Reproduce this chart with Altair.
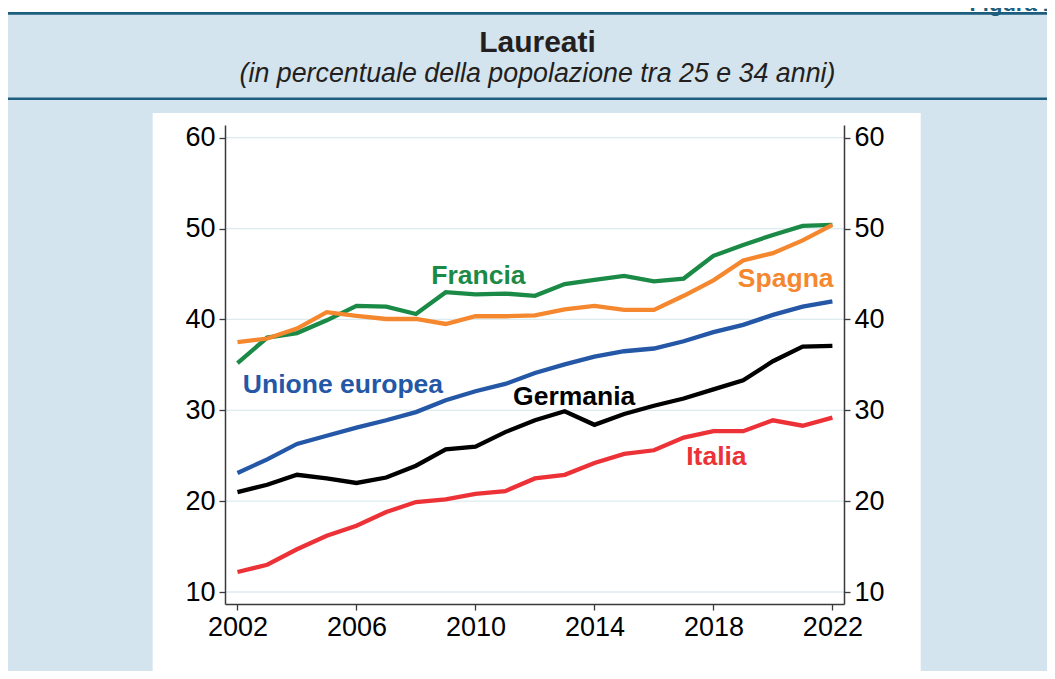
import altair as alt
import pandas as pd

# ---------------- data ----------------
years = list(range(2002, 2023))
francia = [35.2, 38.0, 38.5, 39.9, 41.5, 41.4, 40.6, 43.0, 42.75, 42.85, 42.6,
           43.9, 44.35, 44.8, 44.2, 44.5, 47.0, 48.2, 49.3, 50.3, 50.4]
spagna = [37.5, 37.9, 39.0, 40.8, 40.4, 40.05, 40.05, 39.5, 40.35, 40.35, 40.45,
          41.1, 41.5, 41.05, 41.05, 42.6, 44.3, 46.5, 47.3, 48.7, 50.4]
unione_europea = [23.1, 24.6, 26.3, 27.2, 28.1, 28.9, 29.8, 31.1, 32.1, 32.9, 34.1,
                  35.05, 35.9, 36.5, 36.8, 37.6, 38.6, 39.4, 40.5, 41.4, 42.0]
germania = [21.0, 21.8, 22.9, 22.5, 22.0, 22.6, 23.9, 25.7, 26.0, 27.6, 28.9,
            29.9, 28.4, 29.6, 30.5, 31.3, 32.3, 33.3, 35.4, 37.0, 37.1]
italia = [12.2, 13.0, 14.7, 16.2, 17.3, 18.8, 19.9, 20.2, 20.8, 21.1, 22.5,
          22.9, 24.2, 25.2, 25.6, 27.0, 27.7, 27.7, 28.9, 28.3, 29.2]

series_names = ["Francia", "Spagna", "Unione europea", "Germania", "Italia"]
series_values = [francia, spagna, unione_europea, germania, italia]
series_colors = ["#1b8a47", "#f5872e", "#2457a6", "#000000", "#ec3237"]

# label anchors (year, value) for the inline series names
label_names = ["Francia", "Spagna", "Unione europea", "Germania", "Italia"]
label_years = [2010.1, 2020.43, 2002.18, 2013.32, 2018.1]
label_values = [43.9, 43.57, 31.9, 30.58, 23.98]
label_align = ["center", "center", "left", "center", "center"]

x_ticks = [2002, 2006, 2010, 2014, 2018, 2022]
y_ticks = [10, 20, 30, 40, 50, 60]

title_text = "Laureati"
subtitle_text = "(in percentuale della popolazione tra 25 e 34 anni)"
figure_text = "Figura 1"

rows = []
for name, vals in zip(series_names, series_values):
    for yr, v in zip(years, vals):
        rows.append({"anno": yr, "valore": v, "paese": name})
df = pd.DataFrame(rows)

labels_df = pd.DataFrame({"paese": label_names, "anno": label_years,
                          "valore": label_values, "align": label_align})
grid_df = pd.DataFrame({"valore": y_ticks})

# ---------------- layout ----------------
W, H = 619, 479
PL, PT, PR, PB = 217, 117, 203, 67
FONT = "Liberation Sans"
TEAL = "#1d5e7e"
TXT = "#231f20"

x_dom = [2001.58, 2022.39]
y_dom = [8.68, 61.4]

xscale = alt.Scale(domain=x_dom, nice=False, zero=False)
yscale = alt.Scale(domain=y_dom, nice=False, zero=False)
cscale = alt.Scale(domain=series_names, range=series_colors)

axis_style = dict(labelFont=FONT, labelFontSize=27, labelColor="#000000",
                  tickSize=6, tickColor="#3a3a3a", tickWidth=1.3,
                  domainColor="#3a3a3a", domainWidth=1.5, labelPadding=4,
                  zindex=2, title=None, grid=False)
x_axis = alt.Axis(values=x_ticks, format="d", **axis_style)
y_axis_left = alt.Axis(values=y_ticks, orient="left", **axis_style)
y_axis_right = alt.Axis(values=y_ticks, orient="right", **axis_style)

one = pd.DataFrame({"k": [0]})

white_top = alt.Chart(one).mark_rect(color="white").encode(
    x=alt.value(-PL), x2=alt.value(W + PR), y=alt.value(-PT), y2=alt.value(-112.5))
top_line = alt.Chart(one).mark_rule(color=TEAL, strokeWidth=2.8).encode(
    x=alt.value(-PL), x2=alt.value(W + PR), y=alt.value(-111.6))
sub_line = alt.Chart(one).mark_rule(color=TEAL, strokeWidth=2.4).encode(
    x=alt.value(-PL), x2=alt.value(W + PR), y=alt.value(-26.2))
panel = alt.Chart(one).mark_rect(color="white").encode(
    x=alt.value(-72.3), x2=alt.value(695.7), y=alt.value(-12), y2=alt.value(H + PB))
title = alt.Chart(one).mark_text(text=title_text, font=FONT, fontSize=30, fontWeight="bold",
                                 color=TXT, align="center", baseline="alphabetic").encode(
    x=alt.value(312.5), y=alt.value(-73.5))
subtitle = alt.Chart(one).mark_text(text=subtitle_text, font=FONT, fontSize=26.8, fontStyle="italic",
                                    color=TXT, align="center", baseline="alphabetic").encode(
    x=alt.value(312.5), y=alt.value(-43))
figura = alt.Chart(one).mark_text(text=figure_text, font=FONT, fontSize=22, fontWeight="bold",
                                  color=TEAL, align="right", baseline="alphabetic").encode(
    x=alt.value(W + PR + 8), y=alt.value(-114))

grid = alt.Chart(grid_df).mark_rule(color="#dcebf0", strokeWidth=1.3).encode(
    y=alt.Y("valore:Q", scale=yscale, axis=None),
    x=alt.value(0), x2=alt.value(W),
)

lines = alt.Chart(df).mark_line(strokeWidth=4.3, strokeJoin="miter", strokeCap="butt").encode(
    x=alt.X("anno:Q", scale=xscale, axis=x_axis),
    y=alt.Y("valore:Q", scale=yscale, axis=y_axis_left),
    color=alt.Color("paese:N", scale=cscale, legend=None),
    order=alt.Order("anno:Q"),
)

label_layers = []
for al in ["left", "center"]:
    label_layers.append(
        alt.Chart(labels_df[labels_df["align"] == al]).mark_text(
            font=FONT, fontSize=26.5, fontWeight="bold", align=al, baseline="alphabetic").encode(
            x=alt.X("anno:Q", scale=xscale, axis=x_axis),
            y=alt.Y("valore:Q", scale=yscale, axis=None),
            text="paese:N",
            color=alt.Color("paese:N", scale=cscale, legend=None),
        )
    )

right_axis = alt.Chart(df).mark_point(opacity=0).encode(
    x=alt.X("anno:Q", scale=xscale, axis=x_axis),
    y=alt.Y("valore:Q", scale=yscale, axis=y_axis_right),
)

chart = alt.layer(
    white_top, top_line, sub_line, panel, title, subtitle, figura,
    grid, lines, *label_layers, right_axis
).resolve_scale(y="independent").properties(
    width=W, height=H,
    padding={"left": PL, "top": PT, "right": PR, "bottom": PB},
    autosize="none",
).configure(background="#d4e4ee").configure_view(stroke=None)

chart.save("out.html", embed_options={"renderer": "svg", "actions": False})
